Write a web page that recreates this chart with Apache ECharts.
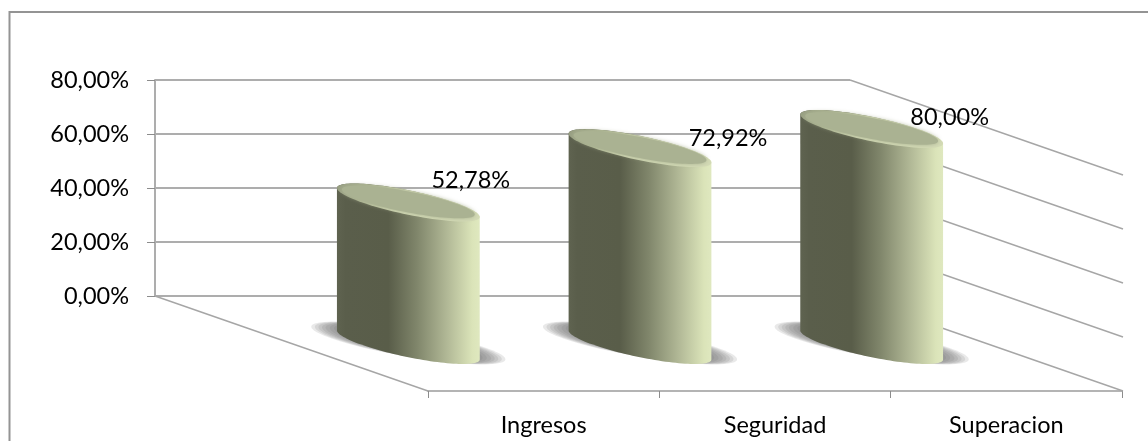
<!DOCTYPE html>
<html>
<head>
<meta charset="utf-8">
<style>
  html, body { margin: 0; padding: 0; background: #fff; }
  #chart { width: 1148px; height: 441px; }
</style>
<script src="https://cdn.jsdelivr.net/npm/echarts@6/dist/echarts.min.js"></script>
</head>
<body>
<div id="chart"></div>
<script>
// Chart data
const categories = ['Ingresos', 'Seguridad', 'Superacion'];
const percentages = [52.78, 72.92, 80.0];
const axisTicks = [0, 20, 40, 60, 80];

// Oblique projection of the floor: how far the front edge sits from the back wall
const FLOOR_DEPTH = { x: 273, y: 95 };
// Cylinder centre relative to its slot on the back wall
const BAR_SHIFT = { x: 137.5, y: 49 };
// Cross-section of a cylinder: half-width axis and depth axis of the sheared ellipse
const SECTION = { u: 46, vx: 54.6, vy: 19 };
// Soft floor shadow, built from stacked translucent ellipses (largest first)
const SHADOW_LAYERS = [1.36, 1.31, 1.26, 1.21, 1.16, 1.1, 1.04];
const SHADOW_DY = -2;
// Value labels float beside the cylinder tops, each with its own nudge
const labelNudge = [[62.5, -22.5], [88, -9.5], [78, -11.5]];

const FONT = 'Lato, "Open Sans", sans-serif';
const LABEL_SIZE = 23.5;
const WALL = '#adadad';

const fmtPct = v => v.toFixed(2).replace('.', ',') + '%';

function ellipsePoints(cx, cy, s, from, to, steps) {
  const pts = [];
  for (let i = 0; i <= steps; i++) {
    const t = from + (to - from) * i / steps;
    pts.push([cx + s.u * Math.cos(t) + s.vx * Math.sin(t), cy + s.vy * Math.sin(t)]);
  }
  return pts;
}

// Depth lines on the right wall and the left floor edge
function renderWalls(params, api) {
  const sys = params.coordSys;
  const v = api.value(0);
  const y = api.coord([0, v])[1];
  const right = sys.x + sys.width;
  const children = [{
    type: 'line',
    shape: { x1: right, y1: y, x2: right + FLOOR_DEPTH.x, y2: y + FLOOR_DEPTH.y },
    style: { stroke: '#a6a6a6', lineWidth: 1.4 }
  }];
  if (v === 0) {
    children.push({
      type: 'line',
      shape: { x1: sys.x, y1: y, x2: sys.x + FLOOR_DEPTH.x, y2: y + FLOOR_DEPTH.y },
      style: { stroke: '#a6a6a6', lineWidth: 1.4 }
    });
  }
  return { type: 'group', children };
}

// One cylinder: floor shadow, shaded body, bevelled top, value label
function renderCylinder(params, api) {
  const i = api.value(0);
  const val = api.value(1);
  const base = api.coord([i, 0]);
  const head = api.coord([i, val]);
  const cx = base[0] + BAR_SHIFT.x;
  const cyBase = base[1] + BAR_SHIFT.y;
  const cyTop = head[1] + BAR_SHIFT.y;
  const t0 = Math.atan2(SECTION.vx, SECTION.u);

  const front = ellipsePoints(cx, cyBase, SECTION, t0, t0 + Math.PI, 60);
  const topFront = ellipsePoints(cx, cyTop, SECTION, t0 + Math.PI, t0 + 2 * Math.PI, 60);
  const inner = { u: SECTION.u * 0.93, vx: SECTION.vx * 0.93, vy: SECTION.vy * 0.86 };

  const shadows = SHADOW_LAYERS.map(s => ({
    type: 'polygon',
    shape: {
      points: ellipsePoints(cx, cyBase + SHADOW_DY, {
        u: SECTION.u * s,
        vx: SECTION.vx * s,
        vy: SECTION.vy * (1 + (s - 1) * 0.35)
      }, 0, Math.PI * 2, 90)
    },
    style: { fill: 'rgba(110,110,110,0.15)' }
  }));

  const nudge = labelNudge[i];
  return {
    type: 'group',
    children: shadows.concat([
      {
        type: 'polygon',
        shape: { points: front.concat(topFront) },
        style: {
          fill: new echarts.graphic.LinearGradient(0, 0, 1, 0, [
            { offset: 0, color: '#5f6350' },
            { offset: 0.06, color: '#5a5e4b' },
            { offset: 0.36, color: '#595d49' },
            { offset: 0.56, color: '#80866b' },
            { offset: 0.77, color: '#b1b896' },
            { offset: 0.95, color: '#dbe4b9' },
            { offset: 1, color: '#dfe8bf' }
          ])
        }
      },
      {
        type: 'polygon',
        shape: { points: ellipsePoints(cx, cyTop, SECTION, 0, Math.PI * 2, 90) },
        style: {
          fill: new echarts.graphic.LinearGradient(0, 0, 0.35, 1, [
            { offset: 0, color: '#959c80' },
            { offset: 0.45, color: '#adb592' },
            { offset: 1, color: '#d3dab5' }
          ])
        }
      },
      {
        type: 'polygon',
        shape: { points: ellipsePoints(cx, cyTop - 0.5, inner, 0, Math.PI * 2, 90) },
        style: { fill: '#aab292', shadowBlur: 4, shadowColor: '#aab292' }
      },
      {
        type: 'text',
        style: {
          x: cx + nudge[0],
          y: cyTop + nudge[1],
          text: fmtPct(val),
          align: 'center',
          verticalAlign: 'middle',
          fill: '#000',
          font: LABEL_SIZE + 'px ' + FONT
        }
      }
    ])
  };
}

const chart = echarts.init(document.getElementById('chart'), null, { renderer: 'canvas' });
chart.setOption({
  animation: false,
  backgroundColor: '#fff',
  graphic: [{
    type: 'polyline',
    shape: { points: [[9.5, 441], [9.5, 12], [1148, 12]] },
    style: { stroke: '#949494', lineWidth: 2, fill: null },
    silent: true
  }],
  grid: [
    { left: 155, top: 80, width: 695, height: 216 },
    { left: 428, top: 300, width: 694, height: 91 }
  ],
  xAxis: [
    {
      gridIndex: 0,
      type: 'category',
      data: categories,
      axisLine: { show: false },
      axisTick: { show: false },
      axisLabel: { show: false }
    },
    {
      gridIndex: 1,
      type: 'category',
      data: categories,
      axisLine: { show: true, lineStyle: { color: '#b4b4b4', width: 2 } },
      axisTick: { show: true, length: 7, lineStyle: { color: '#8c8c8c', width: 1 } },
      axisLabel: { margin: 22, color: '#000', fontFamily: FONT, fontSize: LABEL_SIZE }
    }
  ],
  yAxis: [
    {
      gridIndex: 0,
      type: 'value',
      min: 0,
      max: 80,
      interval: 20,
      axisLine: { show: true, lineStyle: { color: '#adadad', width: 2 } },
      axisTick: { show: true, length: 8, lineStyle: { color: '#8c8c8c', width: 1 } },
      splitLine: { show: true, lineStyle: { color: WALL, width: 2 } },
      axisLabel: {
        margin: 26,
        padding: [6, 0, 0, 0],
        color: '#000',
        fontFamily: FONT,
        fontSize: LABEL_SIZE,
        formatter: fmtPct
      }
    },
    {
      gridIndex: 1,
      type: 'value',
      min: 0,
      max: 80,
      interval: 80,
      axisLine: { show: false },
      axisTick: { show: false },
      axisLabel: { show: false },
      splitLine: { show: false }
    }
  ],
  series: [
    {
      type: 'custom',
      name: 'paredes',
      xAxisIndex: 0,
      yAxisIndex: 0,
      clip: false,
      silent: true,
      encode: { x: 1, y: 0 },
      data: axisTicks.map(v => [v, 0]),
      renderItem: renderWalls,
      z: 2
    },
    {
      type: 'custom',
      name: 'Porcentaje',
      xAxisIndex: 0,
      yAxisIndex: 0,
      clip: false,
      silent: true,
      encode: { x: 0, y: 1 },
      data: percentages.map((v, i) => [i, v]),
      renderItem: renderCylinder,
      z: 3
    }
  ]
});
</script>
</body>
</html>
